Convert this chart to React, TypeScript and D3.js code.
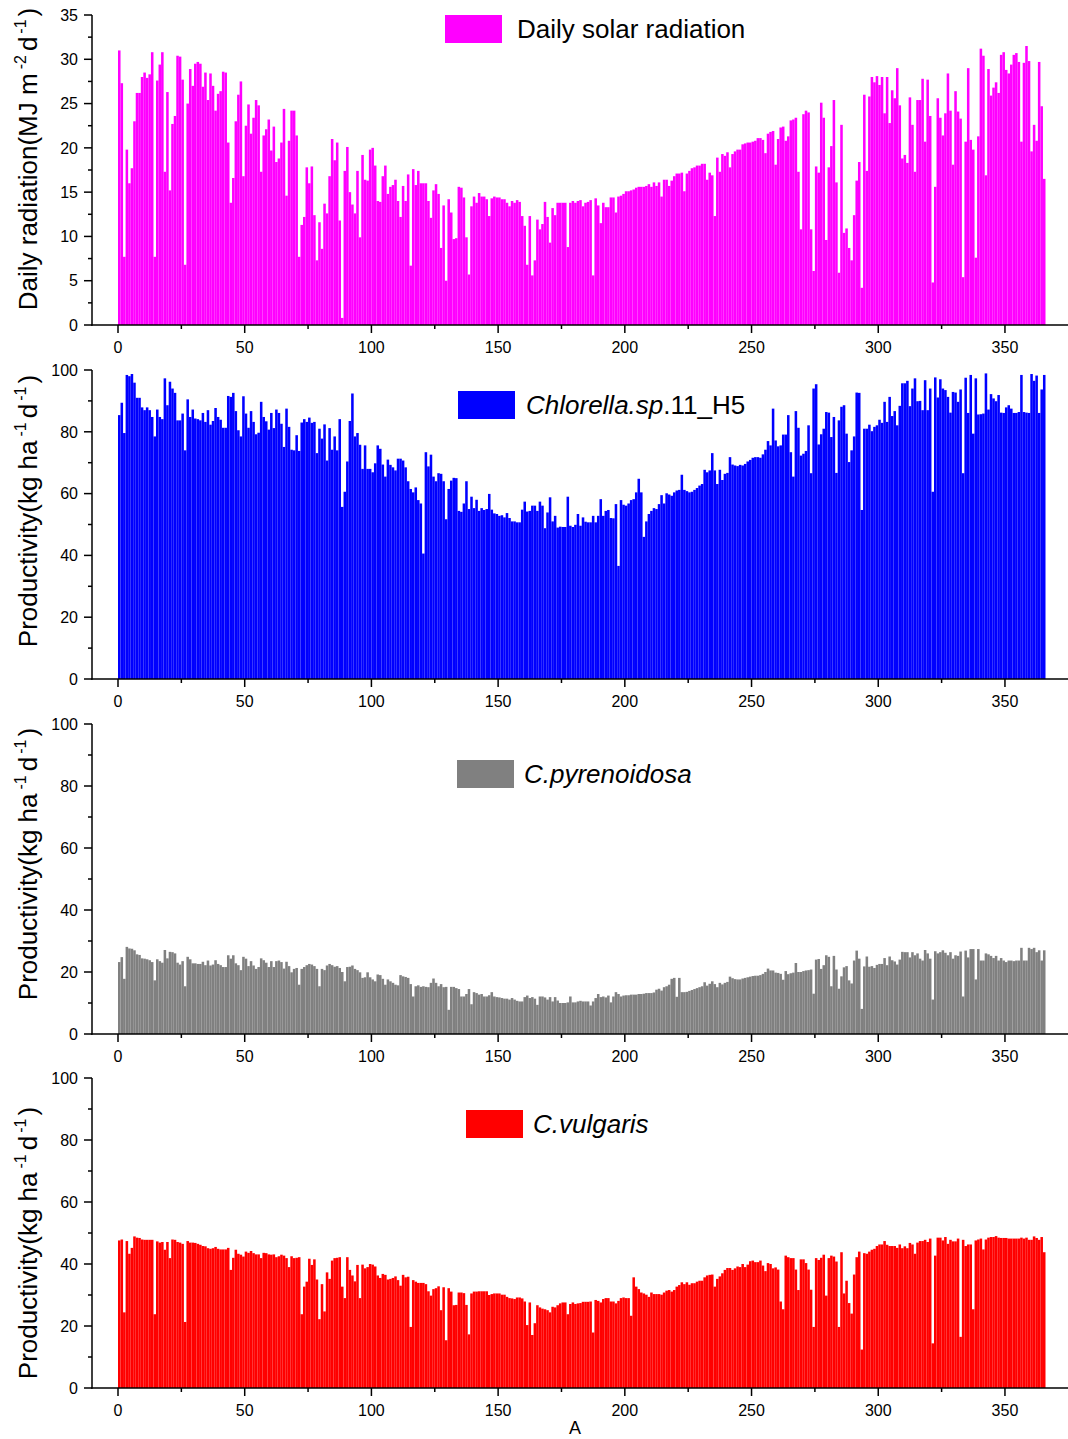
import React from 'react';
import * as d3 from 'd3';

// Daily solar radiation (MJ m-2 d-1), days 1..366
const radiation = [
  31.0, 27.3, 7.7, 19.8, 16.0, 17.7, 23.0, 26.2, 26.2, 28.0,
  28.5, 27.9, 28.3, 30.8, 7.7, 27.6, 29.4, 30.8, 17.3, 26.3,
  15.2, 22.7, 23.6, 30.4, 30.3, 27.7, 6.8, 25.0, 28.9, 27.0,
  29.5, 29.7, 29.5, 26.9, 28.5, 25.4, 28.4, 27.0, 24.2, 26.1,
  26.4, 28.6, 28.5, 20.6, 13.8, 16.6, 23.0, 26.0, 27.5, 16.8,
  22.5, 24.9, 21.6, 23.4, 25.4, 24.8, 17.3, 21.4, 22.1, 23.2,
  19.7, 22.4, 18.4, 18.8, 20.6, 24.4, 14.6, 20.8, 24.2, 24.2,
  21.4, 7.7, 11.3, 12.2, 17.8, 16.0, 17.9, 12.4, 7.3, 11.6,
  8.6, 13.7, 12.6, 16.8, 21.0, 18.6, 20.6, 11.8, 0.8, 17.4,
  20.1, 15.0, 13.6, 12.6, 17.4, 9.9, 19.2, 16.4, 16.3, 19.8,
  20.0, 18.0, 14.0, 13.9, 16.8, 18.0, 14.8, 15.6, 15.8, 16.4,
  14.0, 12.2, 15.7, 14.0, 17.0, 6.7, 17.6, 15.8, 17.4, 16.0,
  16.0, 16.0, 14.0, 12.1, 15.2, 15.9, 14.8, 8.7, 13.5, 5.0,
  14.2, 12.7, 9.7, 9.8, 15.6, 15.5, 14.4, 9.9, 5.7, 13.4,
  14.5, 13.8, 14.9, 14.5, 14.5, 14.2, 12.3, 14.3, 14.5, 14.4,
  14.4, 14.2, 14.2, 13.8, 13.4, 14.0, 13.8, 14.1, 13.9, 12.3,
  11.2, 6.8, 12.3, 5.6, 7.3, 11.9, 10.8, 11.4, 13.9, 12.2,
  9.3, 13.2, 12.4, 13.8, 13.8, 13.8, 13.8, 8.8, 13.8, 14.0,
  13.8, 14.0, 14.1, 13.4, 13.8, 13.9, 14.1, 5.6, 14.3, 13.5,
  11.5, 13.8, 13.3, 13.3, 14.4, 14.4, 12.7, 14.5, 14.6, 14.8,
  15.1, 15.1, 15.2, 15.3, 15.5, 15.6, 15.6, 15.6, 15.7, 15.9,
  15.6, 16.1, 15.7, 16.1, 14.5, 16.4, 16.4, 15.7, 16.3, 16.8,
  17.1, 17.1, 17.2, 15.1, 17.1, 17.4, 17.7, 17.8, 18.0, 18.0,
  18.2, 18.2, 16.4, 17.2, 16.9, 12.3, 18.9, 17.3, 19.3, 19.1,
  19.5, 17.8, 19.3, 19.6, 19.8, 19.8, 20.4, 20.5, 20.6, 20.6,
  20.7, 20.8, 21.1, 21.1, 20.9, 19.4, 21.6, 21.8, 21.9, 18.1,
  21.0, 22.3, 22.4, 20.8, 21.3, 23.1, 23.2, 23.4, 17.3, 10.8,
  23.8, 24.2, 24.0, 10.8, 6.1, 17.9, 17.2, 25.1, 23.4, 9.6,
  17.8, 20.2, 25.4, 16.1, 5.9, 22.6, 10.4, 10.9, 8.7, 7.3,
  12.4, 16.3, 18.4, 4.2, 26.0, 17.4, 25.8, 28.0, 27.4, 28.1,
  27.1, 28.0, 23.9, 28.0, 22.8, 26.5, 25.6, 29.0, 24.8, 18.8,
  19.2, 18.3, 25.7, 22.6, 17.3, 25.4, 25.4, 27.8, 20.7, 27.7,
  23.6, 4.8, 15.6, 25.6, 23.4, 21.4, 23.9, 28.4, 24.2, 18.1,
  26.4, 24.1, 23.3, 5.4, 20.7, 29.0, 20.9, 19.8, 7.6, 21.3,
  31.2, 30.4, 16.9, 28.9, 25.9, 26.8, 27.4, 26.2, 30.5, 30.8,
  28.8, 28.4, 29.4, 30.5, 30.7, 29.7, 20.7, 29.6, 31.5, 29.8,
  19.6, 22.6, 20.8, 29.7, 24.7, 16.5,
];

// Chlorella.sp.11_H5 productivity (kg ha-1 d-1)
const chlorella = [
  85.4, 89.4, 79.6, 98.4, 98.0, 98.7, 95.9, 91.0, 91.0, 87.9,
  87.0, 87.9, 87.0, 84.8, 78.5, 87.2, 84.8, 84.1, 97.3, 88.6,
  96.2, 94.0, 92.6, 83.7, 83.7, 85.9, 74.0, 90.5, 84.8, 87.2,
  84.3, 84.1, 83.7, 86.1, 83.2, 87.0, 82.3, 83.5, 87.7, 84.8,
  83.9, 81.3, 81.3, 91.6, 91.3, 92.6, 86.7, 80.5, 78.5, 91.5,
  85.9, 81.3, 86.7, 83.2, 79.2, 79.7, 89.7, 84.8, 83.4, 80.7,
  86.1, 81.2, 87.2, 86.1, 82.6, 75.1, 87.5, 81.6, 74.2, 74.0,
  78.9, 73.8, 83.0, 84.1, 83.2, 84.6, 82.9, 83.2, 73.1, 81.0,
  77.8, 82.4, 70.7, 81.2, 74.2, 78.5, 74.0, 84.1, 55.7, 60.6,
  70.4, 83.5, 92.4, 78.5, 79.6, 75.8, 68.0, 75.6, 68.0, 68.0,
  66.9, 69.8, 75.6, 74.5, 69.4, 65.5, 71.0, 69.3, 68.5, 67.5,
  71.3, 71.3, 70.7, 68.5, 64.0, 61.5, 60.4, 62.0, 57.9, 56.8,
  40.6, 73.4, 68.8, 72.6, 65.5, 64.0, 66.6, 66.4, 64.0, 51.7,
  61.5, 64.2, 65.1, 65.0, 54.4, 54.1, 56.8, 64.0, 55.0, 59.0,
  55.3, 58.0, 54.4, 55.3, 54.7, 55.0, 59.9, 54.8, 53.6, 53.4,
  52.8, 53.0, 52.3, 53.7, 52.1, 51.0, 51.0, 50.7, 50.7, 54.8,
  57.4, 54.2, 54.4, 56.1, 56.1, 54.4, 57.4, 56.1, 48.8, 53.9,
  58.8, 51.0, 52.8, 49.0, 49.3, 49.2, 49.2, 59.0, 49.6, 49.2,
  49.9, 53.4, 49.6, 52.3, 50.9, 50.7, 50.7, 52.8, 50.7, 52.8,
  58.2, 52.8, 54.4, 54.7, 52.1, 52.0, 56.6, 36.6, 57.9, 56.4,
  56.1, 56.8, 57.9, 58.2, 60.4, 64.8, 60.4, 46.0, 51.0, 53.4,
  54.4, 55.3, 55.0, 56.6, 59.5, 56.8, 60.1, 59.7, 59.3, 60.4,
  61.0, 61.2, 66.1, 61.2, 60.8, 60.4, 60.6, 61.2, 61.8, 62.6,
  63.1, 67.7, 66.9, 67.5, 73.1, 67.5, 63.1, 67.7, 64.4, 66.4,
  66.7, 71.8, 69.4, 69.1, 68.9, 69.3, 69.1, 69.6, 70.4, 70.9,
  71.6, 71.8, 71.8, 71.6, 72.7, 74.2, 77.0, 75.6, 87.5, 77.2,
  75.3, 75.6, 79.1, 79.1, 85.4, 73.4, 65.5, 86.7, 81.3, 72.3,
  72.9, 73.8, 82.1, 66.6, 94.0, 95.4, 75.9, 79.2, 81.0, 86.4,
  86.2, 78.3, 84.8, 66.7, 83.7, 88.1, 88.6, 79.4, 70.2, 74.0,
  78.5, 92.7, 92.6, 54.7, 81.0, 81.0, 82.3, 80.2, 81.6, 82.1,
  83.9, 82.9, 89.7, 83.2, 91.3, 85.1, 86.7, 82.1, 88.4, 95.7,
  95.7, 96.5, 88.3, 94.0, 97.3, 89.9, 90.0, 87.0, 96.7, 87.0,
  94.0, 60.6, 97.6, 91.1, 97.0, 94.0, 93.5, 91.3, 86.2, 92.9,
  92.7, 89.7, 93.7, 66.6, 97.5, 86.1, 98.4, 79.4, 97.3, 85.6,
  85.7, 85.9, 98.9, 87.2, 92.2, 90.8, 89.9, 91.9, 86.2, 86.1,
  87.9, 88.6, 87.5, 86.1, 86.1, 86.4, 98.4, 86.4, 86.2, 86.1,
  98.7, 96.5, 98.2, 86.1, 93.7, 98.4,
];

// C.pyrenoidosa productivity (kg ha-1 d-1)
const pyrenoidosa = [
  23.2, 24.8, 17.8, 28.1, 27.6, 27.5, 27.0, 25.7, 25.5, 24.4,
  24.3, 24.1, 23.8, 23.2, 17.3, 24.1, 23.5, 23.0, 27.1, 24.4,
  26.5, 26.4, 26.0, 23.0, 22.4, 23.5, 15.4, 24.9, 24.1, 22.8,
  22.8, 22.6, 22.6, 23.3, 22.2, 23.7, 22.1, 22.4, 23.8, 22.6,
  22.2, 21.6, 21.6, 25.4, 24.3, 25.4, 22.8, 22.2, 20.6, 24.9,
  24.3, 21.9, 23.5, 22.1, 21.0, 21.6, 24.4, 23.8, 23.0, 21.6,
  23.5, 21.6, 23.5, 23.7, 23.2, 21.1, 23.3, 21.9, 19.9, 21.0,
  21.3, 15.9, 21.0, 21.6, 22.2, 22.6, 22.4, 21.9, 21.0, 15.4,
  21.0, 20.6, 22.1, 22.6, 22.2, 21.7, 21.9, 21.3, 20.0, 17.0,
  21.6, 21.7, 22.1, 21.0, 20.6, 19.9, 18.1, 18.3, 19.9, 18.3,
  17.6, 17.0, 19.2, 19.0, 17.8, 15.9, 17.6, 17.0, 16.5, 15.9,
  15.7, 19.0, 18.6, 18.4, 18.1, 16.1, 12.1, 15.4, 15.7, 15.2,
  15.4, 15.2, 15.1, 16.5, 17.9, 16.5, 15.4, 16.1, 15.1, 15.2,
  7.8, 15.2, 15.2, 14.8, 14.5, 12.1, 12.1, 12.9, 14.5, 9.6,
  13.5, 13.2, 12.7, 12.9, 12.1, 12.1, 12.5, 13.5, 12.1, 11.9,
  11.8, 11.6, 11.4, 11.4, 11.1, 11.6, 11.1, 10.7, 10.5, 10.5,
  11.9, 12.4, 11.6, 11.9, 11.4, 9.4, 12.1, 12.1, 11.8, 11.1,
  11.9, 10.5, 11.9, 10.8, 10.0, 10.0, 10.0, 10.2, 12.1, 10.2,
  10.2, 10.5, 10.7, 10.5, 10.5, 10.5, 9.2, 10.5, 11.6, 12.9,
  11.9, 12.1, 11.8, 12.4, 10.2, 12.1, 13.5, 12.9, 12.1, 12.4,
  12.5, 12.5, 12.7, 12.7, 12.7, 12.9, 12.9, 13.0, 13.2, 13.2,
  13.2, 13.4, 14.3, 14.6, 14.0, 15.1, 15.4, 15.9, 17.8, 18.1,
  12.0, 18.1, 13.5, 13.5, 13.6, 13.9, 14.2, 14.5, 14.8, 15.1,
  15.4, 16.7, 15.6, 16.2, 17.0, 16.1, 15.1, 16.5, 16.0, 16.5,
  16.8, 18.5, 18.0, 17.7, 17.6, 17.6, 17.9, 18.1, 18.3, 18.5,
  18.7, 18.8, 18.8, 19.0, 19.4, 20.0, 21.1, 20.5, 20.5, 19.8,
  19.7, 19.4, 17.5, 20.3, 19.3, 19.6, 19.8, 22.9, 20.0, 20.0,
  20.3, 20.5, 20.6, 20.8, 13.0, 24.0, 24.2, 21.0, 22.2, 25.4,
  24.9, 15.4, 25.2, 20.8, 14.6, 18.6, 21.5, 21.9, 17.3, 16.3,
  23.7, 26.9, 24.3, 8.1, 21.8, 25.0, 21.7, 21.9, 21.3, 22.3,
  22.6, 22.6, 24.5, 22.2, 25.0, 23.8, 23.4, 22.4, 24.0, 26.5,
  26.4, 26.4, 24.7, 26.4, 25.4, 26.0, 24.3, 23.7, 27.1, 26.0,
  24.3, 11.1, 26.7, 26.0, 26.4, 27.0, 26.2, 25.4, 26.4, 24.3,
  25.4, 25.2, 26.6, 12.1, 26.9, 24.7, 27.4, 27.4, 17.6, 27.4,
  23.7, 23.7, 26.0, 25.7, 25.2, 24.5, 25.2, 23.7, 24.5, 23.7,
  23.2, 23.7, 23.7, 23.5, 23.7, 23.7, 27.8, 23.7, 23.7, 27.8,
  27.4, 27.8, 26.4, 27.0, 23.7, 27.0,
];

// C.vulgaris productivity (kg ha-1 d-1)
const vulgaris = [
  47.6, 47.9, 24.4, 47.4, 43.3, 45.2, 48.9, 48.5, 48.4, 47.9,
  47.8, 47.8, 47.8, 47.8, 23.8, 47.3, 46.9, 47.1, 44.6, 47.1,
  41.9, 47.9, 47.8, 47.1, 46.9, 46.5, 21.3, 47.4, 46.9, 46.9,
  46.8, 46.5, 46.2, 45.8, 45.7, 45.1, 44.9, 45.1, 45.5, 44.9,
  44.7, 44.7, 44.7, 45.2, 38.1, 42.0, 44.6, 43.3, 43.0, 42.4,
  44.0, 43.6, 44.2, 43.5, 43.1, 43.1, 41.9, 43.6, 43.5, 43.1,
  43.0, 43.1, 42.2, 42.5, 43.0, 42.7, 41.9, 39.0, 42.5, 41.9,
  42.0, 42.2, 23.8, 32.7, 34.3, 41.7, 39.7, 41.5, 35.0, 22.2,
  33.5, 24.7, 37.3, 35.2, 41.1, 41.9, 42.0, 42.2, 32.7, 29.0,
  42.2, 38.1, 36.3, 34.4, 39.7, 29.0, 39.8, 38.6, 39.0, 40.0,
  39.8, 39.2, 36.3, 35.5, 36.8, 36.5, 35.0, 35.2, 35.5, 36.0,
  34.8, 33.0, 36.5, 35.7, 35.9, 19.7, 34.8, 34.3, 33.9, 33.9,
  33.9, 33.5, 31.2, 29.8, 31.9, 32.2, 32.8, 25.1, 32.5, 15.4,
  32.2, 31.1, 26.7, 26.8, 30.8, 30.8, 30.6, 26.8, 17.3, 30.5,
  31.1, 31.1, 31.2, 31.2, 31.2, 31.2, 30.0, 30.3, 30.5, 30.5,
  30.5, 30.1, 30.1, 29.4, 29.0, 28.9, 28.7, 29.2, 29.2, 28.9,
  27.9, 20.3, 27.6, 17.1, 20.9, 26.7, 26.0, 25.6, 25.4, 25.1,
  24.4, 26.2, 26.0, 26.7, 27.3, 27.6, 27.6, 23.8, 27.1, 27.6,
  27.1, 27.3, 27.4, 27.8, 27.8, 27.8, 27.9, 17.9, 28.4, 28.1,
  27.6, 28.7, 29.0, 29.0, 27.9, 27.9, 27.3, 28.1, 29.0, 29.2,
  29.0, 29.0, 23.3, 35.7, 32.7, 31.9, 30.8, 30.5, 30.1, 29.4,
  30.8, 30.3, 30.3, 30.3, 30.1, 30.8, 31.4, 31.6, 31.1, 31.6,
  32.7, 33.2, 34.1, 33.5, 34.1, 33.3, 33.8, 33.8, 34.3, 34.6,
  34.6, 35.7, 36.3, 36.5, 36.6, 32.7, 35.2, 36.0, 37.0, 38.1,
  38.7, 38.7, 38.1, 38.6, 39.2, 39.0, 40.0, 39.0, 39.8, 40.9,
  41.1, 40.6, 40.6, 41.1, 39.5, 37.7, 40.3, 40.0, 38.6, 38.9,
  38.2, 27.9, 25.4, 42.7, 42.2, 41.9, 41.9, 38.2, 31.6, 41.5,
  41.5, 40.3, 38.2, 31.7, 19.7, 41.9, 41.3, 42.0, 43.0, 29.8,
  41.9, 42.7, 42.4, 40.8, 19.7, 43.8, 30.5, 34.6, 27.4, 24.0,
  36.6, 42.2, 44.0, 12.4, 43.5, 43.3, 44.0, 44.6, 44.9, 45.8,
  46.3, 46.3, 47.4, 46.2, 45.8, 45.8, 45.8, 45.2, 46.3, 45.1,
  45.7, 45.1, 46.8, 46.3, 43.3, 46.9, 47.4, 47.4, 47.8, 47.1,
  48.2, 14.4, 42.7, 48.5, 48.5, 47.6, 48.7, 46.5, 47.8, 47.3,
  47.3, 48.2, 16.5, 47.8, 45.8, 46.3, 46.3, 25.4, 47.6, 47.9,
  48.2, 44.7, 47.9, 48.5, 48.7, 48.7, 49.0, 48.5, 48.4, 48.4,
  48.4, 48.2, 48.2, 48.2, 48.2, 48.2, 48.5, 48.2, 48.5, 47.8,
  47.8, 48.9, 48.4, 47.8, 48.7, 43.8,
];

const xMajorTicks = [0, 50, 100, 150, 200, 250, 300, 350];
const xMinorTicks = [25, 75, 125, 175, 225, 275, 325];
const radTicks = [0, 5, 10, 15, 20, 25, 30, 35];
const radMinorTicks = [2.5, 7.5, 12.5, 17.5, 22.5, 27.5, 32.5];
const prodTicks = [0, 20, 40, 60, 80, 100];
const prodMinorTicks = [10, 30, 50, 70, 90];

const FONT = "'Liberation Sans', Arial, Helvetica, sans-serif";
const W = 1068;
const H = 1439;
const AXIS_X = 92;

const x = d3.scaleLinear().domain([0, 366]).range([118, 1045.5]);

type Panel = {
  data: number[];
  color: string;
  max: number;
  y0: number;
  yTop: number;
  ticks: number[];
  minor: number[];
  titleY: number;
  kind: 'rad' | 'prod';
  legend: { x: number; y: number; tx: number; label: React.ReactNode };
};

const panels: Panel[] = [
  {
    data: radiation, color: '#FF00FF', max: 35, y0: 325, yTop: 15,
    ticks: radTicks, minor: radMinorTicks, titleY: 159, kind: 'rad',
    legend: { x: 445, y: 15, tx: 517, label: <tspan>Daily solar radiation</tspan> },
  },
  {
    data: chlorella, color: '#0000FF', max: 100, y0: 679, yTop: 370,
    ticks: prodTicks, minor: prodMinorTicks, titleY: 511, kind: 'prod',
    legend: {
      x: 458, y: 391, tx: 526,
      label: (<><tspan fontStyle="italic">Chlorella.sp</tspan><tspan>.11_H5</tspan></>),
    },
  },
  {
    data: pyrenoidosa, color: '#808080', max: 100, y0: 1034, yTop: 724,
    ticks: prodTicks, minor: prodMinorTicks, titleY: 864, kind: 'prod',
    legend: { x: 457, y: 760, tx: 524, label: <tspan fontStyle="italic">C.pyrenoidosa</tspan> },
  },
  {
    data: vulgaris, color: '#FF0000', max: 100, y0: 1388, yTop: 1078,
    ticks: prodTicks, minor: prodMinorTicks, titleY: 1243, kind: 'prod',
    legend: { x: 466, y: 1110, tx: 533, label: <tspan fontStyle="italic">C.vulgaris</tspan> },
  },
];

function YTitle({ kind, cy }: { kind: 'rad' | 'prod'; cy: number }) {
  const first = kind === 'rad' ? 'Daily radiation(MJ m' : 'Productivity(kg ha';
  const firstSup = kind === 'rad' ? '-2' : '-1';
  return (
    <text
      transform={`translate(37,${cy}) rotate(-90)`}
      textAnchor="middle"
      fontFamily={FONT}
      fontSize={26}
      fill="#000"
    >
      <tspan>{first}</tspan>
      <tspan dx={4} dy={-11} fontSize={16}>{firstSup}</tspan>
      <tspan dx={4} dy={11}>d</tspan>
      <tspan dx={3} dy={-11} fontSize={16}>-1</tspan>
      <tspan dx={3} dy={11}>)</tspan>
    </text>
  );
}

function PanelView({ p }: { p: Panel }) {
  const y = d3.scaleLinear().domain([0, p.max]).range([p.y0, p.yTop]);
  return (
    <g>
      <g fill={p.color}>
        {p.data.map((v, i) => (
          <rect
            key={i}
            x={x(i)}
            y={y(v)}
            width={x(i + 1) - x(i)}
            height={p.y0 - y(v)}
          />
        ))}
      </g>
      <line x1={AXIS_X} x2={AXIS_X} y1={p.y0 + 0.75} y2={y(p.max)} stroke="#000" strokeWidth={1.5} />
      {p.ticks.map((t) => (
        <g key={`yt${t}`}>
          <line x1={AXIS_X - 8} x2={AXIS_X} y1={y(t)} y2={y(t)} stroke="#000" strokeWidth={1.5} />
          <text
            x={AXIS_X - 14}
            y={y(t)}
            dy="0.36em"
            textAnchor="end"
            fontFamily={FONT}
            fontSize={16}
            fill="#000"
          >
            {t}
          </text>
        </g>
      ))}
      {p.minor.map((t) => (
        <line key={`ym${t}`} x1={AXIS_X - 4} x2={AXIS_X} y1={y(t)} y2={y(t)} stroke="#000" strokeWidth={1.5} />
      ))}
      <line x1={AXIS_X - 0.75} x2={W} y1={p.y0} y2={p.y0} stroke="#000" strokeWidth={1.5} />
      {xMajorTicks.map((t) => (
        <g key={`xt${t}`}>
          <line x1={x(t)} x2={x(t)} y1={p.y0} y2={p.y0 + 8} stroke="#000" strokeWidth={1.5} />
          <text
            x={x(t)}
            y={p.y0 + 28}
            textAnchor="middle"
            fontFamily={FONT}
            fontSize={16}
            fill="#000"
          >
            {t}
          </text>
        </g>
      ))}
      {xMinorTicks.map((t) => (
        <line key={`xm${t}`} x1={x(t)} x2={x(t)} y1={p.y0} y2={p.y0 + 4} stroke="#000" strokeWidth={1.5} />
      ))}
      <YTitle kind={p.kind} cy={p.titleY} />
      <rect x={p.legend.x} y={p.legend.y} width={57} height={28} fill={p.color} />
      <text
        x={p.legend.tx}
        y={p.legend.y + 14}
        dy="0.36em"
        fontFamily={FONT}
        fontSize={26}
        fill="#000"
      >
        {p.legend.label}
      </text>
    </g>
  );
}

export default function App() {
  return (
    <svg
      width={W}
      height={H}
      viewBox={`0 0 ${W} ${H}`}
      style={{ position: 'absolute', left: 0, top: 0, background: '#fff' }}
    >
      <rect x={0} y={0} width={W} height={H} fill="#fff" />
      {panels.map((p, i) => (
        <PanelView key={i} p={p} />
      ))}
      <text x={575} y={1434} textAnchor="middle" fontFamily={FONT} fontSize={18} fill="#000">
        A
      </text>
    </svg>
  );
}
